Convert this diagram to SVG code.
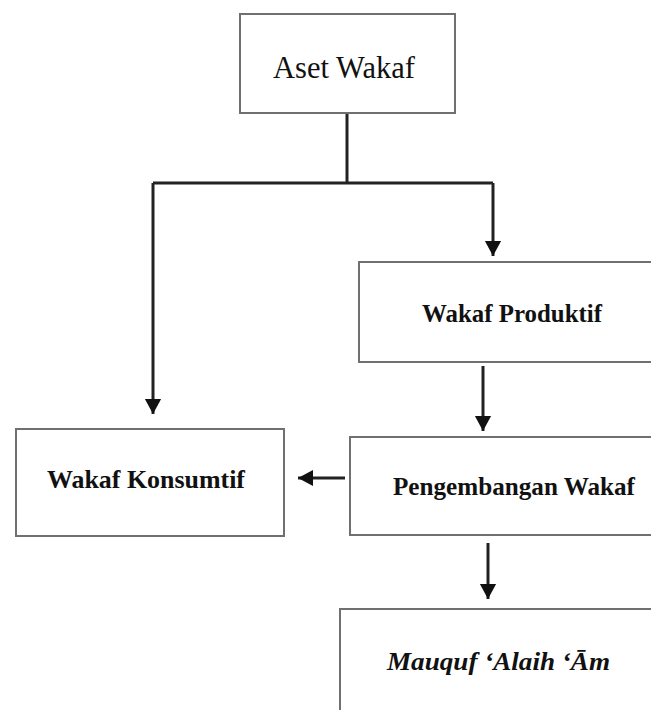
<svg xmlns="http://www.w3.org/2000/svg" width="651" height="710" viewBox="0 0 651 710">
<defs>
<style>
.box{fill:#fff;stroke:#707070;stroke-width:2}
.lbl{font-family:"Liberation Serif","Times New Roman",serif;fill:#111}
.b{font-weight:bold;font-size:26px}
.line{fill:none;stroke:#222;stroke-width:3}
</style>
<marker id="ah" markerWidth="6" markerHeight="6" refX="5" refY="3" orient="auto" markerUnits="strokeWidth">
<path d="M0,0.3 L5,3 L0,5.7 Z" fill="#111"/>
</marker>
</defs>
<rect width="651" height="710" fill="#fff"/>
<g id="connectors">
<path class="line" d="M347,114 V183"/>
<path class="line" d="M153,183 H493"/>
<path class="line" d="M153,183 V414" marker-end="url(#ah)"/>
<path class="line" d="M493,183 V256" marker-end="url(#ah)"/>
<path class="line" d="M483,366 V431" marker-end="url(#ah)"/>
<path class="line" d="M345,478 H298" marker-end="url(#ah)"/>
<path class="line" d="M488,543 V599" marker-end="url(#ah)"/>
</g>
<g id="aset-wakaf">
<rect class="box" x="240" y="14" width="215" height="99"/>
<text class="lbl" x="344" y="78" font-size="30.5" text-anchor="middle" fill="#1a1a33">Aset Wakaf</text>
</g>
<g id="wakaf-produktif">
<rect class="box" x="359" y="262" width="310" height="100"/>
<text class="lbl b" x="422" y="322" textLength="180" lengthAdjust="spacingAndGlyphs">Wakaf Produktif</text>
</g>
<g id="wakaf-konsumtif">
<rect class="box" x="16" y="429" width="268" height="107"/>
<text class="lbl b" x="47" y="488" textLength="198" lengthAdjust="spacingAndGlyphs">Wakaf Konsumtif</text>
</g>
<g id="pengembangan-wakaf">
<rect class="box" x="350" y="437" width="320" height="98"/>
<text class="lbl b" x="393" y="495" textLength="242" lengthAdjust="spacingAndGlyphs">Pengembangan Wakaf</text>
</g>
<g id="mauquf-alaih-am">
<rect class="box" x="340" y="609" width="330" height="120"/>
<text class="lbl b" x="387" y="670" font-style="italic" textLength="223" lengthAdjust="spacingAndGlyphs">Mauquf ʻAlaih ʻĀm</text>
</g>
</svg>
